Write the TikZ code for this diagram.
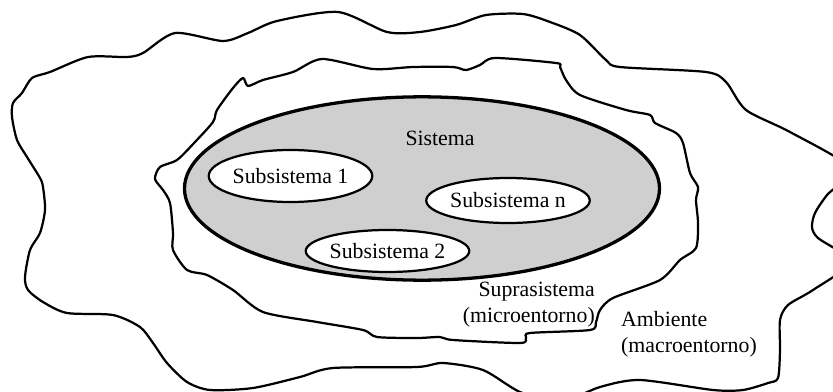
\documentclass[tikz,border=0pt]{standalone}
\usepackage{fontspec}
\setmainfont{Liberation Serif}
\usetikzlibrary{positioning,shapes.geometric}

\begin{document}
\begin{tikzpicture}[x=0.03cm,y=-0.03cm]
            \tikzset{
                blob/.style={
                    draw,
                    line width=1.9pt,
                    line join=round
                }
            }
            \tikzset{
                sysbox/.style={
                    draw,
                    ellipse,
                    line width=2.8pt,
                    fill=black!19,
                    minimum width=14.25cm,
                    minimum height=5.5cm,
                    inner sep=0pt
                }
            }
            \tikzset{
                subsys/.style={
                    draw,
                    ellipse,
                    fill=white,
                    line width=1.9pt,
                    minimum width=4.35cm,
                    inner sep=0pt,
                    font=\fontsize{18.6}{21.5}\selectfont
                }
            }
            \tikzset{
                lbl/.style={
                    font=\fontsize{18.6}{21.5}\selectfont,
                    inner sep=0pt
                }
            }

            \useasboundingbox (0,0) rectangle (833,392);

            % ambiente (macroentorno)
            \draw[blob] plot[smooth cycle, tension=0.45] coordinates {
                (32,78) (50,72) (88,57) (127,57) (143,53) (175,33) (223,41)
                (248,33) (277,21) (338,12) (387,32) (420,32) (456,25) (486,15)
                (523,14) (550,22) (580,35) (606,60) (620,67) (706,72) (726,82)
                (746,110) (790,132) (850,168) (827,195) (815,213) (812,227)
                (818,238) (850,262) (813,290) (788,305) (780,320) (780,350)
                (778,378) (768,383) (743,390) (713,390) (640,380) (600,387)
                (560,402) (520,392) (483,370) (443,363) (417,367) (333,368)
                (300,377) (253,388) (210,390) (187,382) (167,363) (153,343)
                (140,327) (113,315) (67,313) (43,302) (28,290) (25,277)
                (30,250) (40,233) (45,210) (43,187) (40,178) (27,157) (17,140)
                (12,117) (13,103) (22,93)};

            % suprasistema (microentorno)
            \draw[blob] plot[smooth cycle, tension=0.45] coordinates {
                (243,78) (248,86) (263,80) (293,72) (322,59) (373,69) (413,67)
                (453,67) (466,70) (480,65) (495,58) (556,63) (560,67) (566,80)
                (580,95) (626,110) (650,115) (655,123) (676,133) (683,143)
                (690,173) (698,187) (696,200) (698,223) (696,248) (680,260)
                (660,280) (613,298) (600,310) (596,322) (590,330) (530,333)
                (526,338) (520,343) (453,340) (440,337) (417,338) (377,337)
                (363,330) (317,322) (263,312) (233,290) (207,275) (187,270)
                (173,250) (173,233) (170,203) (163,190) (155,179) (160,167)
                (177,160) (195,142) (213,122) (217,110) (233,88)};

            \node[sysbox] (sys) at (422,188.5) {};
            \node[lbl, anchor=base] (syslbl) at (440,145) {Sistema};

            \node[subsys, minimum height=1.56cm] (sub1) at (290.5,176) {Subsistema 1};
            \node[subsys, minimum height=1.35cm] (subn) at (508,200.5) {Subsistema n};
            \node[subsys, minimum height=1.26cm] (sub2) at (387.5,251) {Subsistema 2};

            \node[lbl, align=right, anchor=base east] (supra) at (595,322) {Suprasistema\\(microentorno)};
            \node[lbl, align=left, anchor=base west] (amb) at (621,352) {Ambiente\\(macroentorno)};
        \end{tikzpicture}
\end{document}
